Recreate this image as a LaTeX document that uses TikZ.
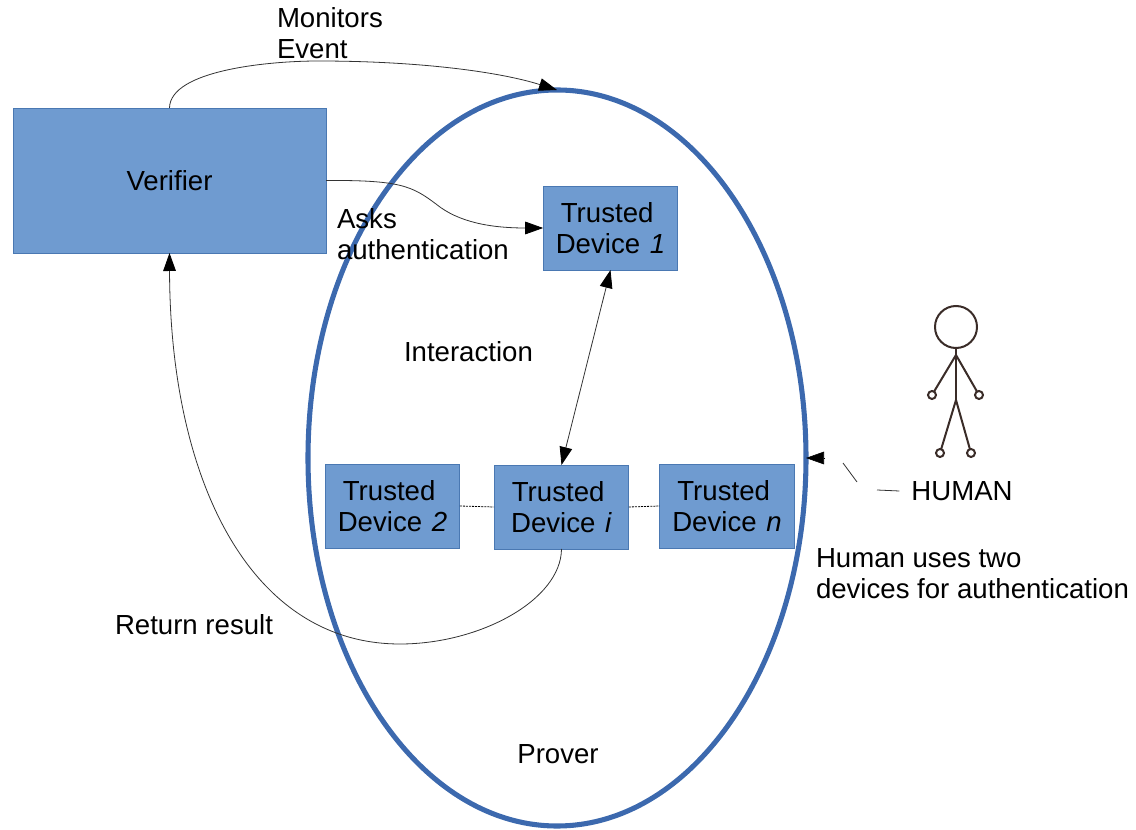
\documentclass[tikz,border=0pt]{standalone}
\usepackage{fontspec}
\setmainfont{Liberation Sans}
\usetikzlibrary{arrows.meta,shapes.geometric}
\definecolor{boxblue}{HTML}{6F9BD0}
\definecolor{boxedge}{HTML}{4A78B2}
\definecolor{ringblue}{HTML}{3C69AE}
\definecolor{stickman}{HTML}{3A2C28}
\newcommand{\devlabel}[1]{Trusted\kern5pt\\Device\kern1.5pt\ \textit{#1}}

\begin{document}
\begin{tikzpicture}[
		x=0.75pt,y=-0.75pt,
		every node/.style={font=\fontsize{20.7}{23.2}\selectfont,inner sep=0pt,outer sep=0pt},
		device/.style={rectangle,draw=boxedge,line width=0.6pt,fill=boxblue,align=center,minimum width=101pt,minimum height=63pt},
		caption/.style={align=left,anchor=west},
		flow/.style={draw=black!80,line width=0.6pt},
		tip/.style={-{Triangle[length=13.5pt,width=9.5pt,color=black]}},
		twotips/.style={{Triangle[length=13.5pt,width=9.5pt,color=black]}-{Triangle[length=13.5pt,width=9.5pt,color=black]}},
		link/.style={black,dash pattern=on 1.5pt off 0.8pt,line width=0.6pt},
		figure/.style={stickman,line width=1.5pt}
		]
		\useasboundingbox (0,0) rectangle (1136,830);
		\node[ellipse,draw=ringblue,line width=3.8pt,minimum width=373.5pt,minimum height=552pt] (prover) at (557,458) {};
		\node[device,minimum width=234.75pt,minimum height=108.75pt] (verifier) at (169.5,180.5) {Verifier};
		\node[device] (dev1) at (610.5,228) {\devlabel{1}};
		\node[device] (dev2) at (392.5,506) {\devlabel{2}};
		\node[device] (devi) at (561.5,507) {\devlabel{i}};
		\node[device] (devn) at (727,506) {\devlabel{n}};

		\node[caption] (monitors) at (277,33) {Monitors\\Event};
		\node[caption] (asks) at (337,234.5) {Asks\\authentication};
		\node[caption] (interaction) at (404,352) {Interaction};
		\node[caption] (return) at (115,625) {Return result};
		\node[caption] (uses) at (816,573.5) {Human uses two\\devices for authentication};
		\node (proverlabel) at (558,754) {Prover};
		\node (human) at (962,491) {HUMAN};

		\draw[flow,tip] (verifier.north) .. controls (170,70) and (270,61) .. (318,61) .. controls (420,61) and (500,72) .. (prover.north);
		\draw[flow,tip] (verifier.east) .. controls (400,180) and (412,186) .. (436,204) .. controls (458,222) and (490,228) .. (dev1.west);
		\draw[flow,twotips] (dev1.south) -- (devi.north);
		\draw[flow,tip] (devi.south) .. controls (561,600) and (480,644) .. (400,644) .. controls (250,644) and (170,480) .. (verifier.south);
		\draw[link] (dev2.east) -- (devi.west);
		\draw[link] (devi.east) -- (devn.west);

		% broken line from the label
		\coordinate (gapa) at (877,490);
		\coordinate (gapb) at (857,482);
		\coordinate (gapc) at (843,463);
		\coordinate (tipstart) at (825,458);
		\draw[flow] ([xshift=-9pt]human.west) -- (gapa);
		\draw[flow] (gapb) -- (gapc);
		\draw[tip] (tipstart) -- (prover.east);

		% stick figure
		\draw[figure] (956,327) circle (21);
		\draw[figure] (956,348) -- (956,400);
		\draw[figure] (932,395) -- (956,355) -- (979,395);
		\draw[figure] (940,453) -- (956,400) -- (971,453);
		\foreach \px/\py in {932/395,979/395,940/453,971/453}
			\draw[figure,fill=white] (\px,\py) circle (4);
	\end{tikzpicture}
\end{document}
